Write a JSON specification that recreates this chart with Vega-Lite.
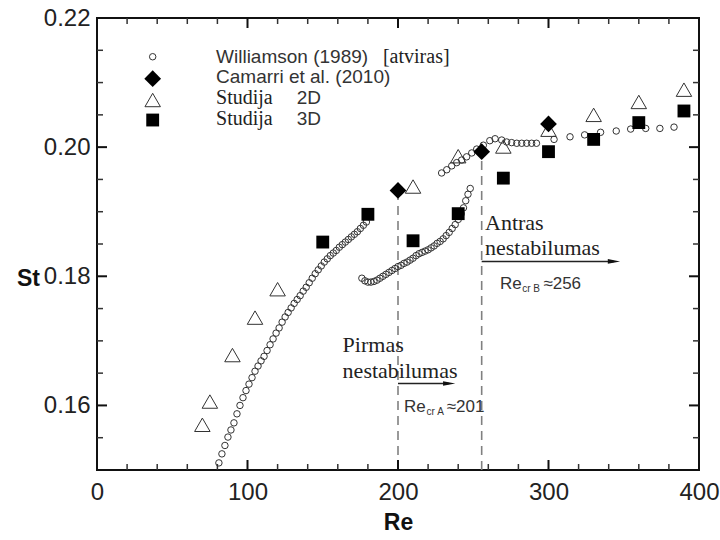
{
  "$schema": "https://vega.github.io/schema/vega-lite/v6.json",
  "width": 602,
  "height": 452,
  "autosize": {"type": "none"},
  "padding": {"left": 97, "top": 18, "right": 21, "bottom": 70},
  "background": "white",
  "config": {
    "view": {"stroke": "#111", "strokeWidth": 2},
    "axis": {"domain": false, "grid": false, "ticks": false, "labelFont": "Liberation Sans", "labelColor": "#222", "titleColor": "#111", "titleFont": "Liberation Sans"}
  },
  "datasets": {
    "pts": [
      {"s": "W", "Re": 81, "St": 0.1511}, {"s": "W", "Re": 83, "St": 0.1525}, {"s": "W", "Re": 85, "St": 0.1538}, {"s": "W", "Re": 87, "St": 0.1551},
      {"s": "W", "Re": 89, "St": 0.1562}, {"s": "W", "Re": 91, "St": 0.1573}, {"s": "W", "Re": 93, "St": 0.1587}, {"s": "W", "Re": 95, "St": 0.16},
      {"s": "W", "Re": 97, "St": 0.1612}, {"s": "W", "Re": 99, "St": 0.1623}, {"s": "W", "Re": 101, "St": 0.1633}, {"s": "W", "Re": 103, "St": 0.1643},
      {"s": "W", "Re": 105, "St": 0.1653}, {"s": "W", "Re": 107, "St": 0.1661}, {"s": "W", "Re": 109, "St": 0.1669}, {"s": "W", "Re": 111, "St": 0.1676},
      {"s": "W", "Re": 113, "St": 0.1685}, {"s": "W", "Re": 115, "St": 0.1694}, {"s": "W", "Re": 117, "St": 0.1703}, {"s": "W", "Re": 119, "St": 0.1712},
      {"s": "W", "Re": 121, "St": 0.172}, {"s": "W", "Re": 123, "St": 0.1729}, {"s": "W", "Re": 125, "St": 0.1737}, {"s": "W", "Re": 127, "St": 0.1744},
      {"s": "W", "Re": 129, "St": 0.1751}, {"s": "W", "Re": 131, "St": 0.1758}, {"s": "W", "Re": 133, "St": 0.1764}, {"s": "W", "Re": 135, "St": 0.177},
      {"s": "W", "Re": 137, "St": 0.1777}, {"s": "W", "Re": 139, "St": 0.1783}, {"s": "W", "Re": 141, "St": 0.179}, {"s": "W", "Re": 143, "St": 0.1797},
      {"s": "W", "Re": 145, "St": 0.1804}, {"s": "W", "Re": 147, "St": 0.181}, {"s": "W", "Re": 149, "St": 0.1816}, {"s": "W", "Re": 151, "St": 0.1822},
      {"s": "W", "Re": 153, "St": 0.1827}, {"s": "W", "Re": 155, "St": 0.1832}, {"s": "W", "Re": 157, "St": 0.1836}, {"s": "W", "Re": 159, "St": 0.184},
      {"s": "W", "Re": 161, "St": 0.1845}, {"s": "W", "Re": 163, "St": 0.1849}, {"s": "W", "Re": 165, "St": 0.1853}, {"s": "W", "Re": 167, "St": 0.1857},
      {"s": "W", "Re": 169, "St": 0.1861}, {"s": "W", "Re": 171, "St": 0.1865}, {"s": "W", "Re": 173, "St": 0.1869}, {"s": "W", "Re": 175, "St": 0.1874},
      {"s": "W", "Re": 177, "St": 0.1879}, {"s": "W", "Re": 179, "St": 0.1884},
      {"s": "W", "Re": 176, "St": 0.1797}, {"s": "W", "Re": 178, "St": 0.1793}, {"s": "W", "Re": 180, "St": 0.1791}, {"s": "W", "Re": 182, "St": 0.1791},
      {"s": "W", "Re": 184, "St": 0.1792}, {"s": "W", "Re": 186, "St": 0.1794}, {"s": "W", "Re": 188, "St": 0.1797}, {"s": "W", "Re": 190, "St": 0.18},
      {"s": "W", "Re": 192, "St": 0.1803}, {"s": "W", "Re": 194, "St": 0.1806}, {"s": "W", "Re": 196, "St": 0.1809}, {"s": "W", "Re": 198, "St": 0.1812},
      {"s": "W", "Re": 200, "St": 0.1815}, {"s": "W", "Re": 202, "St": 0.1817}, {"s": "W", "Re": 204, "St": 0.182}, {"s": "W", "Re": 206, "St": 0.1822},
      {"s": "W", "Re": 208, "St": 0.1825}, {"s": "W", "Re": 210, "St": 0.1828}, {"s": "W", "Re": 212, "St": 0.1832}, {"s": "W", "Re": 214, "St": 0.1835},
      {"s": "W", "Re": 216, "St": 0.1837}, {"s": "W", "Re": 218, "St": 0.1839}, {"s": "W", "Re": 220, "St": 0.1841}, {"s": "W", "Re": 222, "St": 0.1844},
      {"s": "W", "Re": 224, "St": 0.1847}, {"s": "W", "Re": 226, "St": 0.1851}, {"s": "W", "Re": 228, "St": 0.1854}, {"s": "W", "Re": 230, "St": 0.1858},
      {"s": "W", "Re": 232, "St": 0.1863}, {"s": "W", "Re": 234, "St": 0.1868}, {"s": "W", "Re": 236, "St": 0.1874}, {"s": "W", "Re": 238, "St": 0.188},
      {"s": "W", "Re": 240, "St": 0.1888}, {"s": "W", "Re": 242, "St": 0.1897}, {"s": "W", "Re": 243.5, "St": 0.1906}, {"s": "W", "Re": 245, "St": 0.1917},
      {"s": "W", "Re": 246.5, "St": 0.1927}, {"s": "W", "Re": 248, "St": 0.1936},
      {"s": "W", "Re": 229, "St": 0.196}, {"s": "W", "Re": 232.4, "St": 0.1965}, {"s": "W", "Re": 235.7, "St": 0.1971}, {"s": "W", "Re": 239, "St": 0.1976},
      {"s": "W", "Re": 242.3, "St": 0.198}, {"s": "W", "Re": 245.6, "St": 0.1985}, {"s": "W", "Re": 249, "St": 0.1991}, {"s": "W", "Re": 252.3, "St": 0.1997},
      {"s": "W", "Re": 256.7, "St": 0.2003}, {"s": "W", "Re": 261, "St": 0.201}, {"s": "W", "Re": 264.5, "St": 0.2013}, {"s": "W", "Re": 268.9, "St": 0.2011},
      {"s": "W", "Re": 272.2, "St": 0.2008}, {"s": "W", "Re": 275.5, "St": 0.2007}, {"s": "W", "Re": 278.9, "St": 0.2006}, {"s": "W", "Re": 282.2, "St": 0.2006},
      {"s": "W", "Re": 285.5, "St": 0.2006}, {"s": "W", "Re": 288.8, "St": 0.2006}, {"s": "W", "Re": 292, "St": 0.2006}, {"s": "W", "Re": 303.7, "St": 0.2012},
      {"s": "W", "Re": 314.3, "St": 0.2016}, {"s": "W", "Re": 324, "St": 0.2019}, {"s": "W", "Re": 334.6, "St": 0.2023}, {"s": "W", "Re": 345, "St": 0.2025},
      {"s": "W", "Re": 354.6, "St": 0.2028}, {"s": "W", "Re": 364.6, "St": 0.2029}, {"s": "W", "Re": 374, "St": 0.2029}, {"s": "W", "Re": 383.4, "St": 0.2031},
      {"s": "W", "Re": 37, "St": 0.214},
      {"s": "T", "Re": 70, "St": 0.157}, {"s": "T", "Re": 75, "St": 0.1606}, {"s": "T", "Re": 90, "St": 0.1678}, {"s": "T", "Re": 105, "St": 0.1736},
      {"s": "T", "Re": 120, "St": 0.178}, {"s": "T", "Re": 210, "St": 0.1939}, {"s": "T", "Re": 240, "St": 0.1986}, {"s": "T", "Re": 270, "St": 0.2001},
      {"s": "T", "Re": 300, "St": 0.2027}, {"s": "T", "Re": 330, "St": 0.205}, {"s": "T", "Re": 360, "St": 0.207}, {"s": "T", "Re": 390, "St": 0.2089},
      {"s": "T", "Re": 37, "St": 0.2073},
      {"s": "Q", "Re": 150, "St": 0.1853}, {"s": "Q", "Re": 180, "St": 0.1896}, {"s": "Q", "Re": 210, "St": 0.1855}, {"s": "Q", "Re": 240, "St": 0.1897},
      {"s": "Q", "Re": 270, "St": 0.1952}, {"s": "Q", "Re": 300, "St": 0.1993}, {"s": "Q", "Re": 330, "St": 0.2012}, {"s": "Q", "Re": 360, "St": 0.2038},
      {"s": "Q", "Re": 390, "St": 0.2056},
      {"s": "Q", "Re": 37, "St": 0.2042},
      {"s": "C", "Re": 200, "St": 0.1933}, {"s": "C", "Re": 255.6, "St": 0.1993}, {"s": "C", "Re": 300, "St": 0.2036},
      {"s": "C", "Re": 37, "St": 0.2106}
    ],
    "xt": [
      {"v": 100, "k": "M"}, {"v": 200, "k": "M"}, {"v": 300, "k": "M"},
      {"v": 20, "k": "m"}, {"v": 40, "k": "m"}, {"v": 60, "k": "m"}, {"v": 80, "k": "m"},
      {"v": 120, "k": "m"}, {"v": 140, "k": "m"}, {"v": 160, "k": "m"}, {"v": 180, "k": "m"},
      {"v": 220, "k": "m"}, {"v": 240, "k": "m"}, {"v": 260, "k": "m"}, {"v": 280, "k": "m"},
      {"v": 320, "k": "m"}, {"v": 340, "k": "m"}, {"v": 360, "k": "m"}, {"v": 380, "k": "m"}
    ],
    "yt": [
      {"v": 0.16, "k": "M"}, {"v": 0.18, "k": "M"}, {"v": 0.2, "k": "M"},
      {"v": 0.155, "k": "m"}, {"v": 0.165, "k": "m"}, {"v": 0.17, "k": "m"}, {"v": 0.175, "k": "m"},
      {"v": 0.185, "k": "m"}, {"v": 0.19, "k": "m"}, {"v": 0.195, "k": "m"}, {"v": 0.205, "k": "m"},
      {"v": 0.21, "k": "m"}, {"v": 0.215, "k": "m"}
    ],
    "vlines": [
      {"Re": 200, "y1": 0.15, "y2": 0.1933},
      {"Re": 255.6, "y1": 0.15, "y2": 0.1993}
    ],
    "arrows": [
      {"Re": 200, "Re2": 234, "St": 0.1634, "tip": 234},
      {"Re": 255.6, "Re2": 343.5, "St": 0.1823, "tip": 343.5}
    ],
    "serif": [
      {"t": "Pirmas", "Re": 163.2, "St": 0.1683},
      {"t": "nestabilumas", "Re": 163.2, "St": 0.1643},
      {"t": "Antras", "Re": 257.8, "St": 0.1872},
      {"t": "nestabilumas", "Re": 257.8, "St": 0.1833}
    ],
    "legserif": [
      {"t": "[atviras]", "Re": 190, "St": 0.213},
      {"t": "Studija", "Re": 79.1, "St": 0.2067},
      {"t": "Studija", "Re": 79.1, "St": 0.2034}
    ],
    "legtxt": [
      {"t": "Williamson (1989)", "Re": 79.1, "St": 0.213},
      {"t": "Camarri et al. (2010)", "Re": 79.1, "St": 0.21},
      {"t": "2D", "Re": 132.7, "St": 0.2067},
      {"t": "3D", "Re": 132.7, "St": 0.2034}
    ],
    "anntxt": [
      {"t": "Re", "Re": 204, "St": 0.159},
      {"t": "≈201", "Re": 232.4, "St": 0.159},
      {"t": "Re", "Re": 267.8, "St": 0.178},
      {"t": "≈256", "Re": 296.6, "St": 0.178}
    ],
    "subtxt": [
      {"t": "cr A", "Re": 219, "St": 0.1585},
      {"t": "cr B", "Re": 282.5, "St": 0.1775}
    ]
  },
  "layer": [
    {
      "data": {"name": "vlines"},
      "mark": {"type": "rule", "color": "#808080", "strokeWidth": 1.6, "strokeDash": [9, 6]},
      "encoding": {
        "x": {"field": "Re", "type": "quantitative", "scale": {"domain": [0, 400], "nice": false, "zero": false}, "axis": null},
        "y": {"field": "y1", "type": "quantitative", "scale": {"domain": [0.15, 0.22], "nice": false, "zero": false}, "axis": null},
        "y2": {"field": "y2"}
      }
    },
    {
      "data": {"name": "xt"},
      "transform": [{"filter": "datum.k === 'M'"}],
      "mark": {"type": "tick", "orient": "vertical", "size": 10, "thickness": 2, "yOffset": -5, "color": "#111", "opacity": 1},
      "encoding": {
        "x": {"field": "v", "type": "quantitative", "scale": {"domain": [0, 400], "nice": false, "zero": false}, "axis": null},
        "y": {"datum": 0.15, "type": "quantitative", "scale": {"domain": [0.15, 0.22], "nice": false, "zero": false}, "axis": null}
      }
    },
    {
      "data": {"name": "xt"},
      "transform": [{"filter": "datum.k === 'M'"}],
      "mark": {"type": "tick", "orient": "vertical", "size": 10, "thickness": 2, "yOffset": 5, "color": "#111", "opacity": 1},
      "encoding": {
        "x": {"field": "v", "type": "quantitative", "scale": {"domain": [0, 400], "nice": false, "zero": false}, "axis": null},
        "y": {"datum": 0.22, "type": "quantitative", "scale": {"domain": [0.15, 0.22], "nice": false, "zero": false}, "axis": null}
      }
    },
    {
      "data": {"name": "xt"},
      "transform": [{"filter": "datum.k === 'm'"}],
      "mark": {"type": "tick", "orient": "vertical", "size": 6, "thickness": 1.5, "yOffset": -3, "color": "#333", "opacity": 1},
      "encoding": {
        "x": {"field": "v", "type": "quantitative", "scale": {"domain": [0, 400], "nice": false, "zero": false}, "axis": null},
        "y": {"datum": 0.15, "type": "quantitative", "scale": {"domain": [0.15, 0.22], "nice": false, "zero": false}, "axis": null}
      }
    },
    {
      "data": {"name": "xt"},
      "transform": [{"filter": "datum.k === 'm'"}],
      "mark": {"type": "tick", "orient": "vertical", "size": 6, "thickness": 1.5, "yOffset": 3, "color": "#333", "opacity": 1},
      "encoding": {
        "x": {"field": "v", "type": "quantitative", "scale": {"domain": [0, 400], "nice": false, "zero": false}, "axis": null},
        "y": {"datum": 0.22, "type": "quantitative", "scale": {"domain": [0.15, 0.22], "nice": false, "zero": false}, "axis": null}
      }
    },
    {
      "data": {"name": "yt"},
      "transform": [{"filter": "datum.k === 'M'"}],
      "mark": {"type": "tick", "orient": "horizontal", "size": 10, "thickness": 2, "xOffset": 5, "color": "#111", "opacity": 1},
      "encoding": {
        "y": {"field": "v", "type": "quantitative", "scale": {"domain": [0.15, 0.22], "nice": false, "zero": false}, "axis": null},
        "x": {"datum": 0, "type": "quantitative", "scale": {"domain": [0, 400], "nice": false, "zero": false}, "axis": null}
      }
    },
    {
      "data": {"name": "yt"},
      "transform": [{"filter": "datum.k === 'M'"}],
      "mark": {"type": "tick", "orient": "horizontal", "size": 10, "thickness": 2, "xOffset": -5, "color": "#111", "opacity": 1},
      "encoding": {
        "y": {"field": "v", "type": "quantitative", "scale": {"domain": [0.15, 0.22], "nice": false, "zero": false}, "axis": null},
        "x": {"datum": 400, "type": "quantitative", "scale": {"domain": [0, 400], "nice": false, "zero": false}, "axis": null}
      }
    },
    {
      "data": {"name": "yt"},
      "transform": [{"filter": "datum.k === 'm'"}],
      "mark": {"type": "tick", "orient": "horizontal", "size": 6, "thickness": 1.5, "xOffset": 3, "color": "#333", "opacity": 1},
      "encoding": {
        "y": {"field": "v", "type": "quantitative", "scale": {"domain": [0.15, 0.22], "nice": false, "zero": false}, "axis": null},
        "x": {"datum": 0, "type": "quantitative", "scale": {"domain": [0, 400], "nice": false, "zero": false}, "axis": null}
      }
    },
    {
      "data": {"name": "yt"},
      "transform": [{"filter": "datum.k === 'm'"}],
      "mark": {"type": "tick", "orient": "horizontal", "size": 6, "thickness": 1.5, "xOffset": -3, "color": "#333", "opacity": 1},
      "encoding": {
        "y": {"field": "v", "type": "quantitative", "scale": {"domain": [0.15, 0.22], "nice": false, "zero": false}, "axis": null},
        "x": {"datum": 400, "type": "quantitative", "scale": {"domain": [0, 400], "nice": false, "zero": false}, "axis": null}
      }
    },
    {
      "data": {"name": "arrows"},
      "mark": {"type": "rule", "color": "#222", "strokeWidth": 1.5},
      "encoding": {
        "x": {"field": "Re", "type": "quantitative", "scale": {"domain": [0, 400], "nice": false, "zero": false}, "axis": null},
        "x2": {"field": "Re2"},
        "y": {"field": "St", "type": "quantitative", "scale": {"domain": [0.15, 0.22], "nice": false, "zero": false}, "axis": null}
      }
    },
    {
      "data": {"name": "arrows"},
      "mark": {"type": "point", "shape": "M-1,-0.38L1,0L-1,0.38Z", "filled": true, "color": "#111", "opacity": 1, "size": 150},
      "encoding": {
        "x": {"field": "tip", "type": "quantitative", "scale": {"domain": [0, 400], "nice": false, "zero": false}, "axis": null},
        "y": {"field": "St", "type": "quantitative", "scale": {"domain": [0.15, 0.22], "nice": false, "zero": false}, "axis": null}
      }
    },
    {
      "data": {"name": "pts"},
      "transform": [{"filter": "datum.s === 'W'"}],
      "mark": {"type": "point", "shape": "circle", "filled": false, "color": "#333", "strokeWidth": 1, "size": 42, "opacity": 1},
      "encoding": {
        "x": {"field": "Re", "type": "quantitative", "scale": {"domain": [0, 400], "nice": false, "zero": false},
          "axis": {"orient": "bottom", "values": [0, 100, 200, 300, 400], "labelFontSize": 24, "labelPadding": 10, "labelFlush": false, "labelOverlap": false,
            "title": "Re", "titleFontSize": 23, "titleFontWeight": "bold", "titleX": 301, "titleY": 52, "titleAlign": "center", "titleBaseline": "middle"}},
        "y": {"field": "St", "type": "quantitative", "scale": {"domain": [0.15, 0.22], "nice": false, "zero": false},
          "axis": {"orient": "left", "values": [0.16, 0.18, 0.2, 0.22], "format": ".2f", "labelFontSize": 24, "labelPadding": 7, "labelFlush": false, "labelOverlap": false,
            "title": "St", "titleFontSize": 23, "titleFontWeight": "bold", "titleAngle": 0, "titleX": -69, "titleY": 260, "titleAlign": "center", "titleBaseline": "middle"}}
      }
    },
    {
      "data": {"name": "pts"},
      "transform": [{"filter": "datum.s === 'T'"}],
      "mark": {"type": "point", "shape": "triangle-up", "filled": false, "color": "#333", "strokeWidth": 1, "size": 240, "opacity": 1},
      "encoding": {
        "x": {"field": "Re", "type": "quantitative", "scale": {"domain": [0, 400], "nice": false, "zero": false}, "axis": null},
        "y": {"field": "St", "type": "quantitative", "scale": {"domain": [0.15, 0.22], "nice": false, "zero": false}, "axis": null}
      }
    },
    {
      "data": {"name": "pts"},
      "transform": [{"filter": "datum.s === 'Q'"}],
      "mark": {"type": "point", "shape": "square", "filled": true, "color": "#000", "size": 165, "opacity": 1},
      "encoding": {
        "x": {"field": "Re", "type": "quantitative", "scale": {"domain": [0, 400], "nice": false, "zero": false}, "axis": null},
        "y": {"field": "St", "type": "quantitative", "scale": {"domain": [0.15, 0.22], "nice": false, "zero": false}, "axis": null}
      }
    },
    {
      "data": {"name": "pts"},
      "transform": [{"filter": "datum.s === 'C'"}],
      "mark": {"type": "point", "shape": "diamond", "filled": true, "color": "#000", "size": 280, "opacity": 1},
      "encoding": {
        "x": {"field": "Re", "type": "quantitative", "scale": {"domain": [0, 400], "nice": false, "zero": false}, "axis": null},
        "y": {"field": "St", "type": "quantitative", "scale": {"domain": [0.15, 0.22], "nice": false, "zero": false}, "axis": null}
      }
    },
    {
      "data": {"name": "serif"},
      "mark": {"type": "text", "font": "Liberation Serif", "fontSize": 22, "align": "left", "baseline": "alphabetic", "color": "#222"},
      "encoding": {
        "x": {"field": "Re", "type": "quantitative", "scale": {"domain": [0, 400], "nice": false, "zero": false}, "axis": null},
        "y": {"field": "St", "type": "quantitative", "scale": {"domain": [0.15, 0.22], "nice": false, "zero": false}, "axis": null},
        "text": {"field": "t"}
      }
    },
    {
      "data": {"name": "legserif"},
      "mark": {"type": "text", "font": "Liberation Serif", "fontSize": 20, "align": "left", "baseline": "alphabetic", "color": "#222"},
      "encoding": {
        "x": {"field": "Re", "type": "quantitative", "scale": {"domain": [0, 400], "nice": false, "zero": false}, "axis": null},
        "y": {"field": "St", "type": "quantitative", "scale": {"domain": [0.15, 0.22], "nice": false, "zero": false}, "axis": null},
        "text": {"field": "t"}
      }
    },
    {
      "data": {"name": "legtxt"},
      "mark": {"type": "text", "font": "Liberation Sans", "fontSize": 19, "align": "left", "baseline": "alphabetic", "color": "#333"},
      "encoding": {
        "x": {"field": "Re", "type": "quantitative", "scale": {"domain": [0, 400], "nice": false, "zero": false}, "axis": null},
        "y": {"field": "St", "type": "quantitative", "scale": {"domain": [0.15, 0.22], "nice": false, "zero": false}, "axis": null},
        "text": {"field": "t"}
      }
    },
    {
      "data": {"name": "anntxt"},
      "mark": {"type": "text", "font": "Liberation Sans", "fontSize": 17, "align": "left", "baseline": "alphabetic", "color": "#333"},
      "encoding": {
        "x": {"field": "Re", "type": "quantitative", "scale": {"domain": [0, 400], "nice": false, "zero": false}, "axis": null},
        "y": {"field": "St", "type": "quantitative", "scale": {"domain": [0.15, 0.22], "nice": false, "zero": false}, "axis": null},
        "text": {"field": "t"}
      }
    },
    {
      "data": {"name": "subtxt"},
      "mark": {"type": "text", "font": "Liberation Sans", "fontSize": 10, "align": "left", "baseline": "alphabetic", "color": "#333"},
      "encoding": {
        "x": {"field": "Re", "type": "quantitative", "scale": {"domain": [0, 400], "nice": false, "zero": false}, "axis": null},
        "y": {"field": "St", "type": "quantitative", "scale": {"domain": [0.15, 0.22], "nice": false, "zero": false}, "axis": null},
        "text": {"field": "t"}
      }
    }
  ],
  "resolve": {"axis": {"x": "independent", "y": "independent"}}
}
